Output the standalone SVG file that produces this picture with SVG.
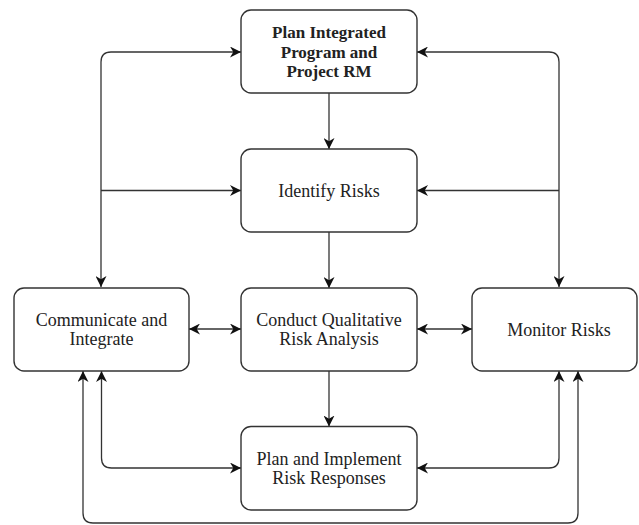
<svg xmlns="http://www.w3.org/2000/svg" width="639" height="525" viewBox="0 0 639 525">
<defs>
<marker id="arr" viewBox="0 0 10 10" refX="10" refY="5" markerWidth="11" markerHeight="11" markerUnits="userSpaceOnUse" orient="auto-start-reverse">
<path d="M0,0 L10,5 L0,10 L3,5 z" fill="#111"/>
</marker>
</defs>
<style>
.box{fill:#fff;stroke:#333;stroke-width:1.4}
.t{font-family:"Liberation Serif","Times New Roman",serif;font-size:18px;fill:#222;text-anchor:middle}
.b{font-weight:bold;font-size:17px}
.c{fill:none;stroke:#333;stroke-width:1.3}
.e{marker-end:url(#arr)}
.s{marker-start:url(#arr)}
</style>
<rect width="639" height="525" fill="#fff"/>
<g id="connectors">
<path class="c s e" d="M101,287 L101,62 Q101,52 111,52 L241,52"/>
<path class="c e" d="M101,190.5 L241,190.5"/>
<path class="c s e" d="M559,287 L559,62 Q559,52 549,52 L417,52"/>
<path class="c e" d="M559,190.5 L417,190.5"/>
<path class="c e" d="M329,93 L329,149"/>
<path class="c e" d="M329,232 L329,288"/>
<path class="c e" d="M329,371 L329,426.5"/>
<path class="c s e" d="M189,329 L241,329"/>
<path class="c s e" d="M417,329 L472,329"/>
<path class="c s e" d="M101.5,371 L101.5,458 Q101.5,468 111.5,468 L241,468"/>
<path class="c s e" d="M559,371 L559,458 Q559,468 549,468 L417,468"/>
<path class="c s e" d="M83,371 L83,513 Q83,523 93,523 L568,523 Q578,523 578,513 L578,371"/>
</g>
<g id="plan">
<rect class="box" x="241" y="10" width="176" height="83" rx="10"/>
<text class="t b" x="329" y="38">Plan Integrated</text>
<text class="t b" x="329" y="57.5">Program and</text>
<text class="t b" x="329" y="77">Project RM</text>
</g>
<g id="identify">
<rect class="box" x="241" y="149" width="176" height="83" rx="10"/>
<text class="t" x="329" y="196.5">Identify Risks</text>
</g>
<g id="communicate">
<rect class="box" x="14" y="288" width="175" height="83" rx="10"/>
<text class="t" x="101.5" y="325.5">Communicate and</text>
<text class="t" x="101.5" y="345">Integrate</text>
</g>
<g id="conduct">
<rect class="box" x="241" y="288" width="176" height="83" rx="10"/>
<text class="t" x="329" y="325.5">Conduct Qualitative</text>
<text class="t" x="329" y="345">Risk Analysis</text>
</g>
<g id="monitor">
<rect class="box" x="472" y="288" width="165" height="83" rx="10"/>
<text class="t" x="559" y="335.5">Monitor Risks</text>
</g>
<g id="implement">
<rect class="box" x="241" y="426.5" width="176" height="83.5" rx="10"/>
<text class="t" x="329" y="465">Plan and Implement</text>
<text class="t" x="329" y="484">Risk Responses</text>
</g>
</svg>
